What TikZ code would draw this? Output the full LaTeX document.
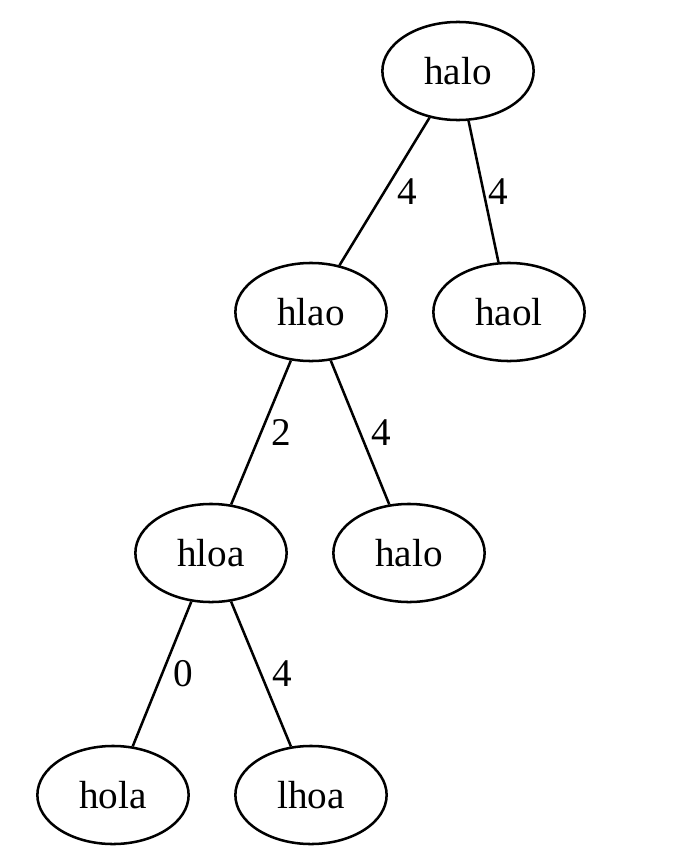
\documentclass[tikz,border=0pt]{standalone}
\usepackage{fontspec}
\setmainfont{Liberation Serif}
\usetikzlibrary{shapes.geometric}
\tikzset{%
  mynode/.style={ellipse, draw=black, line width=0.9pt, minimum width=54pt, minimum height=35pt, inner sep=0pt, font=\fontsize{14}{16}\selectfont},
  myedge/.style={draw=black, line width=0.9pt},
  mylabel/.style={right, font=\fontsize{14}{16}\selectfont}
}

\begin{document}
\begin{tikzpicture}[x=0.357pt, y=-0.357pt]
\useasboundingbox (0,0) rectangle (677,862);

% tree nodes
\foreach \n / \x / \y / \t in {halo/458/71/halo, hlao/311/312/hlao, haol/509/312/haol,
  hloa/211/553/hloa, haloB/409/553/halo, hola/113/795/hola, lhoa/311/795/lhoa}{
  \node [mynode] (\n) at (\x,\y) {\t};
}

% edges with weights
\foreach \a / \b / \w / \s in {halo/hlao/4/4.3pt, halo/haol/4/1.3pt, hlao/hloa/2/3.3pt,
  hlao/haloB/4/3.7pt, hloa/hola/0/3.7pt, hloa/lhoa/4/3.5pt}{
  \draw [myedge] (\a) -- (\b) node [mylabel, inner sep=\s, midway] {\w};
}

\end{tikzpicture}
\end{document}
